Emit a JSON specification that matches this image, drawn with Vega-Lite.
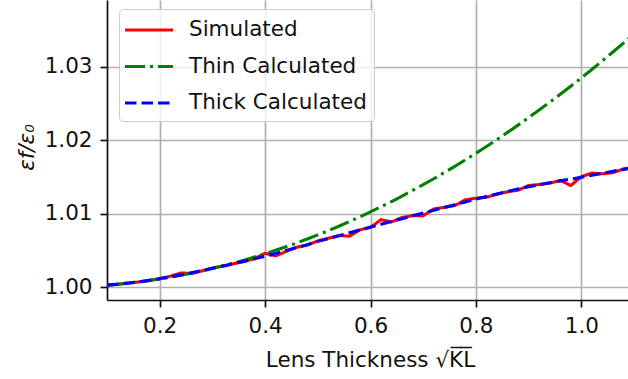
{
  "$schema": "https://vega.github.io/schema/vega-lite/v6.json",
  "autosize": {"type": "none"},
  "width": 527,
  "height": 300,
  "padding": {"left": 107, "top": 0, "right": 0, "bottom": 79},
  "background": "white",
  "config": {
    "font": "DejaVu Sans",
    "view": {"stroke": null},
    "axis": {
      "labelFont": "DejaVu Sans",
      "labelFontSize": 21.5,
      "labelColor": "#111111",
      "titleFont": "DejaVu Sans",
      "titleFontSize": 21.5,
      "titleFontWeight": "normal",
      "titleColor": "#111111",
      "domainColor": "#111111",
      "domainWidth": 1.7,
      "tickColor": "#111111",
      "tickWidth": 1.7,
      "tickSize": 7,
      "labelPadding": 8,
      "gridColor": "#b0b0b0",
      "gridWidth": 1.7,
      "gridOpacity": 1
    },
    "legend": {
      "labelFont": "DejaVu Sans",
      "labelFontSize": 21.5,
      "labelColor": "#111111"
    }
  },
  "data": {
    "values": [
      {"x": 0.10, "sim": 1.00030, "thin": 1.00029, "thick": 1.00030},
      {"x": 0.12, "sim": 1.00040, "thin": 1.00041, "thick": 1.00042},
      {"x": 0.14, "sim": 1.00058, "thin": 1.00056, "thick": 1.00057},
      {"x": 0.16, "sim": 1.00072, "thin": 1.00073, "thick": 1.00074},
      {"x": 0.18, "sim": 1.00095, "thin": 1.00092, "thick": 1.00093},
      {"x": 0.20, "sim": 1.00116, "thin": 1.00114, "thick": 1.00118},
      {"x": 0.22, "sim": 1.00150, "thin": 1.00138, "thick": 1.00142},
      {"x": 0.24, "sim": 1.00195, "thin": 1.00164, "thick": 1.00168},
      {"x": 0.26, "sim": 1.00188, "thin": 1.00193, "thick": 1.00196},
      {"x": 0.28, "sim": 1.00222, "thin": 1.00223, "thick": 1.00226},
      {"x": 0.30, "sim": 1.00262, "thin": 1.00257, "thick": 1.00258},
      {"x": 0.32, "sim": 1.00288, "thin": 1.00292, "thick": 1.00290},
      {"x": 0.34, "sim": 1.00320, "thin": 1.00329, "thick": 1.00322},
      {"x": 0.36, "sim": 1.00350, "thin": 1.00369, "thick": 1.00355},
      {"x": 0.38, "sim": 1.00392, "thin": 1.00412, "thick": 1.00388},
      {"x": 0.40, "sim": 1.00462, "thin": 1.00456, "thick": 1.00422},
      {"x": 0.42, "sim": 1.00428, "thin": 1.00503, "thick": 1.00460},
      {"x": 0.44, "sim": 1.00488, "thin": 1.00552, "thick": 1.00500},
      {"x": 0.46, "sim": 1.00545, "thin": 1.00603, "thick": 1.00540},
      {"x": 0.48, "sim": 1.00575, "thin": 1.00657, "thick": 1.00580},
      {"x": 0.50, "sim": 1.00630, "thin": 1.00713, "thick": 1.00625},
      {"x": 0.52, "sim": 1.00668, "thin": 1.00771, "thick": 1.00663},
      {"x": 0.54, "sim": 1.00705, "thin": 1.00831, "thick": 1.00702},
      {"x": 0.56, "sim": 1.00695, "thin": 1.00894, "thick": 1.00741},
      {"x": 0.58, "sim": 1.00782, "thin": 1.00959, "thick": 1.00780},
      {"x": 0.60, "sim": 1.00815, "thin": 1.01026, "thick": 1.00820},
      {"x": 0.62, "sim": 1.00920, "thin": 1.01096, "thick": 1.00858},
      {"x": 0.64, "sim": 1.00890, "thin": 1.01167, "thick": 1.00896},
      {"x": 0.66, "sim": 1.00950, "thin": 1.01241, "thick": 1.00934},
      {"x": 0.68, "sim": 1.00975, "thin": 1.01318, "thick": 1.00972},
      {"x": 0.70, "sim": 1.00975, "thin": 1.01397, "thick": 1.01010},
      {"x": 0.72, "sim": 1.01065, "thin": 1.01477, "thick": 1.01048},
      {"x": 0.74, "sim": 1.01088, "thin": 1.01561, "thick": 1.01086},
      {"x": 0.76, "sim": 1.01112, "thin": 1.01646, "thick": 1.01124},
      {"x": 0.78, "sim": 1.01190, "thin": 1.01734, "thick": 1.01162},
      {"x": 0.80, "sim": 1.01212, "thin": 1.01824, "thick": 1.01200},
      {"x": 0.82, "sim": 1.01225, "thin": 1.01916, "thick": 1.01236},
      {"x": 0.84, "sim": 1.01268, "thin": 1.02011, "thick": 1.01270},
      {"x": 0.86, "sim": 1.01300, "thin": 1.02108, "thick": 1.01304},
      {"x": 0.88, "sim": 1.01322, "thin": 1.02207, "thick": 1.01337},
      {"x": 0.90, "sim": 1.01385, "thin": 1.02309, "thick": 1.01368},
      {"x": 0.92, "sim": 1.01398, "thin": 1.02412, "thick": 1.01396},
      {"x": 0.94, "sim": 1.01418, "thin": 1.02518, "thick": 1.01422},
      {"x": 0.96, "sim": 1.01455, "thin": 1.02627, "thick": 1.01448},
      {"x": 0.98, "sim": 1.01385, "thin": 1.02737, "thick": 1.01473},
      {"x": 1.00, "sim": 1.01505, "thin": 1.02850, "thick": 1.01497},
      {"x": 1.02, "sim": 1.01555, "thin": 1.02965, "thick": 1.01525},
      {"x": 1.04, "sim": 1.01545, "thin": 1.03083, "thick": 1.01552},
      {"x": 1.06, "sim": 1.01560, "thin": 1.03202, "thick": 1.01578},
      {"x": 1.08, "sim": 1.01610, "thin": 1.03324, "thick": 1.01605},
      {"x": 1.10, "sim": 1.01635, "thin": 1.03449, "thick": 1.01630}
    ]
  },
  "encoding": {
    "x": {
      "field": "x",
      "type": "quantitative",
      "scale": {"domain": [0.1, 1.1], "nice": false, "zero": false},
      "axis": {
        "values": [0.2, 0.4, 0.6, 0.8, 1.0],
        "format": ".1f",
        "title": "Lens Thickness √K̅L̅",
        "titleX": 263,
        "titleY": 66,
        "titleBaseline": "alphabetic",
        "titleAlign": "center"
      }
    },
    "color": {
      "type": "nominal",
      "scale": {
        "domain": ["Simulated", "Thin Calculated", "Thick Calculated"],
        "range": ["#ff0000", "#008000", "#0000ff"]
      },
      "legend": {
        "title": null,
        "orient": "none",
        "legendX": 12,
        "legendY": 9,
        "symbolType": "M-1.25,0H2.75",
        "symbolSize": 576,
        "symbolStrokeWidth": 3.1,
        "labelOffset": 35,
        "labelLimit": 400,
        "rowPadding": 11.5,
        "padding": 7,
        "fillColor": "rgba(255,255,255,0.8)",
        "strokeColor": "#cccccc",
        "cornerRadius": 4
      }
    },
    "strokeDash": {
      "type": "nominal",
      "scale": {
        "domain": ["Simulated", "Thin Calculated", "Thick Calculated"],
        "range": [[1, 0], [20, 5, 3, 5], [11.5, 5]]
      },
      "legend": null
    }
  },
  "layer": [
    {
      "mark": {"type": "line", "clip": true, "strokeWidth": 3.1},
      "encoding": {
        "y": {
          "field": "sim",
          "type": "quantitative",
          "scale": {"domain": [0.99827, 1.0391], "nice": false, "zero": false},
          "axis": {
            "values": [1.0, 1.01, 1.02, 1.03],
            "format": ".2f",
            "title": "εf/ε₀",
            "titleFontStyle": "italic",
            "titleAngle": -90,
            "titleX": -74,
            "titleY": 147,
            "titleBaseline": "alphabetic",
            "titleAlign": "center"
          }
        },
        "color": {"datum": "Simulated"},
        "strokeDash": {"datum": "Simulated"}
      }
    },
    {
      "mark": {"type": "line", "clip": true, "strokeWidth": 3.1},
      "encoding": {
        "y": {"field": "thin", "type": "quantitative"},
        "color": {"datum": "Thin Calculated"},
        "strokeDash": {"datum": "Thin Calculated"}
      }
    },
    {
      "mark": {"type": "line", "clip": true, "strokeWidth": 3.1},
      "encoding": {
        "y": {"field": "thick", "type": "quantitative"},
        "color": {"datum": "Thick Calculated"},
        "strokeDash": {"datum": "Thick Calculated"}
      }
    }
  ]
}
